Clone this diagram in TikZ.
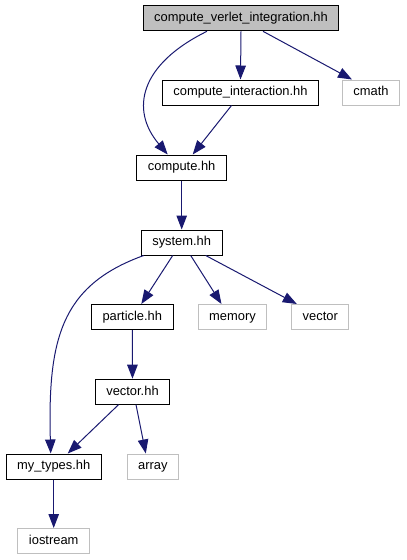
\documentclass[tikz,border=0pt]{standalone}
\usepackage{fontspec}
\setmainfont{Liberation Sans}
\usepackage{xcolor}
\definecolor{edgeblue}{RGB}{25, 25, 112}
\definecolor{extgray}{RGB}{191, 191, 191}
\usepackage{tikz}
\usetikzlibrary{arrows.meta}

\begin{document}
\begin{tikzpicture}[x=1pt, y=-1pt, >={Triangle[length=14pt, width=10.5pt]},
    file/.style={draw=black, line width=1pt, minimum height=25pt, inner xsep=11pt, inner ysep=0pt, text height=9.8pt, text depth=3pt, font=\fontsize{12.9}{15}\selectfont},
    ext/.style={file, draw=extgray},
    dep/.style={->, draw=edgeblue, line width=1pt}]
  \useasboundingbox (0,0) rectangle (407,560);
  % files
  \node[file, fill=extgray] (verlet) at (241,18.3) {compute\_verlet\_integration.hh};
  \node[file] (inter) at (240.5,92.5) {compute\_interaction.hh};
  \node[ext] (cmath) at (371,92.5) {cmath};
  \node[file] (compute) at (181.7,167.5) {compute.hh};
  \node[file] (system) at (181.7,242.5) {system.hh};
  \node[file] (particle) at (132.3,317) {particle.hh};
  \node[ext] (memory) at (232.5,317) {memory};
  \node[ext] (vector) at (320.3,317) {vector};
  \node[file] (vectorhh) at (132.5,391.7) {vector.hh};
  \node[file] (mytypes) at (53.7,466.5) {my\_types.hh};
  \node[ext] (array) at (152.8,466.5) {array};
  \node[ext] (iostream) at (53.7,541) {iostream};
  % includes
  \draw[dep] ([xshift=-34pt]verlet.south) .. controls +(-67,33) and +(-38,-45) .. ([xshift=-14pt]compute.north);
  \draw[dep] (verlet.south) -- (inter.north);
  \draw[dep] ([xshift=22pt]verlet.south) -- ([xshift=-19pt]cmath.north);
  \draw[dep] ([xshift=-9pt]inter.south) -- ([xshift=11pt]compute.north);
  \draw[dep] (compute) -- (system);
  \draw[dep] ([xshift=-38pt]system.south) .. controls +(-83,30) and +(-3,-114) .. ([xshift=-3pt]mytypes.north);
  \draw[dep] ([xshift=-9pt]system.south) -- ([xshift=9pt]particle.north);
  \draw[dep] ([xshift=9pt]system.south) -- ([xshift=-11pt]memory.north);
  \draw[dep] ([xshift=24pt]system.south) -- ([xshift=-23.5pt]vector.north);
  \draw[dep] (particle) -- (vectorhh);
  \draw[dep] ([xshift=-14pt]vectorhh.south) -- ([xshift=14pt]mytypes.north);
  \draw[dep] ([xshift=3.5pt]vectorhh.south) -- ([xshift=-7pt]array.north);
  \draw[dep] (mytypes) -- (iostream);
\end{tikzpicture}
\end{document}
